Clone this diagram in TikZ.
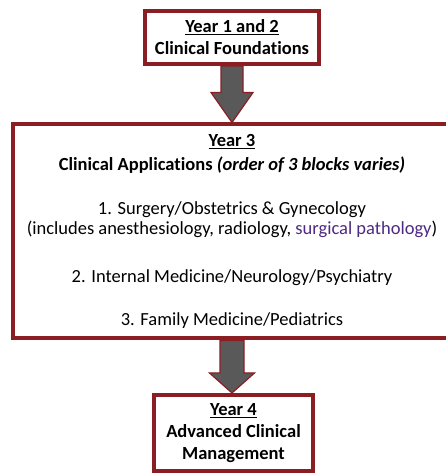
\documentclass[tikz,border=0pt]{standalone}
\usepackage{fontspec}
\setmainfont{Carlito}[Ligatures=NoCommon]
\usetikzlibrary{positioning,calc}
\definecolor{fsmMaroon}{HTML}{8B1E23}
\definecolor{fsmPurple}{HTML}{4E2A84}
\definecolor{fsmGray}{HTML}{595959}
\tikzset{
  yearbox/.style={draw=fsmMaroon,line width=4pt,fill=white,align=center,
                  inner sep=0pt,font=\fontsize{18.5}{22}\selectfont},
  fatarrow/.style={draw=fsmMaroon,line width=1.2pt,fill=fsmGray,line join=miter}
}
% block arrow from the south side of #1 to the north side of #2, head length #3
\newcommand\blockarrow[5]{%
  \draw[fatarrow] let \p1=(#1.south), \p2=(#2.north) in
    (\x1-#4,\y1) -- (\x1+#4,\y1) -- (\x1+#4,\y2+#3) -- (\x1+#5,\y2+#3)
    -- (\x1,\y2) -- (\x1-#5,\y2+#3) -- (\x1-#4,\y2+#3) -- cycle;}

\begin{document}
\begin{tikzpicture}[x=1pt,y=1pt]
  \useasboundingbox (0,0) rectangle (446,473);
  \node[yearbox,minimum width=174pt,minimum height=53pt] (y12) at (232,435.5)
    {\textbf{\underline{Year 1 and 2}}\\\textbf{Clinical Foundations}};
  \node[yearbox,minimum width=438pt,minimum height=214pt] (y3) at (232,241.5)
    {\textbf{\underline{Year 3}}\\[2pt]
     \textbf{Clinical Applications \textit{(order of 3 blocks varies)}}\\[22pt]
     1. Surgery/Obstetrics \& Gynecology\\[-2pt]
     (includes anesthesiology, radiology, \textcolor{fsmPurple}{surgical pathology})\\[26pt]
     2. Internal Medicine/Neurology/Psychiatry\\[21pt]
     3. Family Medicine/Pediatrics};
  \node[yearbox,minimum width=159pt,minimum height=76pt] (y4) at (233.5,40)
    {\textbf{\underline{Year 4}}\\\textbf{Advanced Clinical}\\\textbf{Management}};
  \blockarrow{y12}{y3}{30}{11}{21}
  \blockarrow{y3}{y4}{20}{12}{22.5}
\end{tikzpicture}
\end{document}
